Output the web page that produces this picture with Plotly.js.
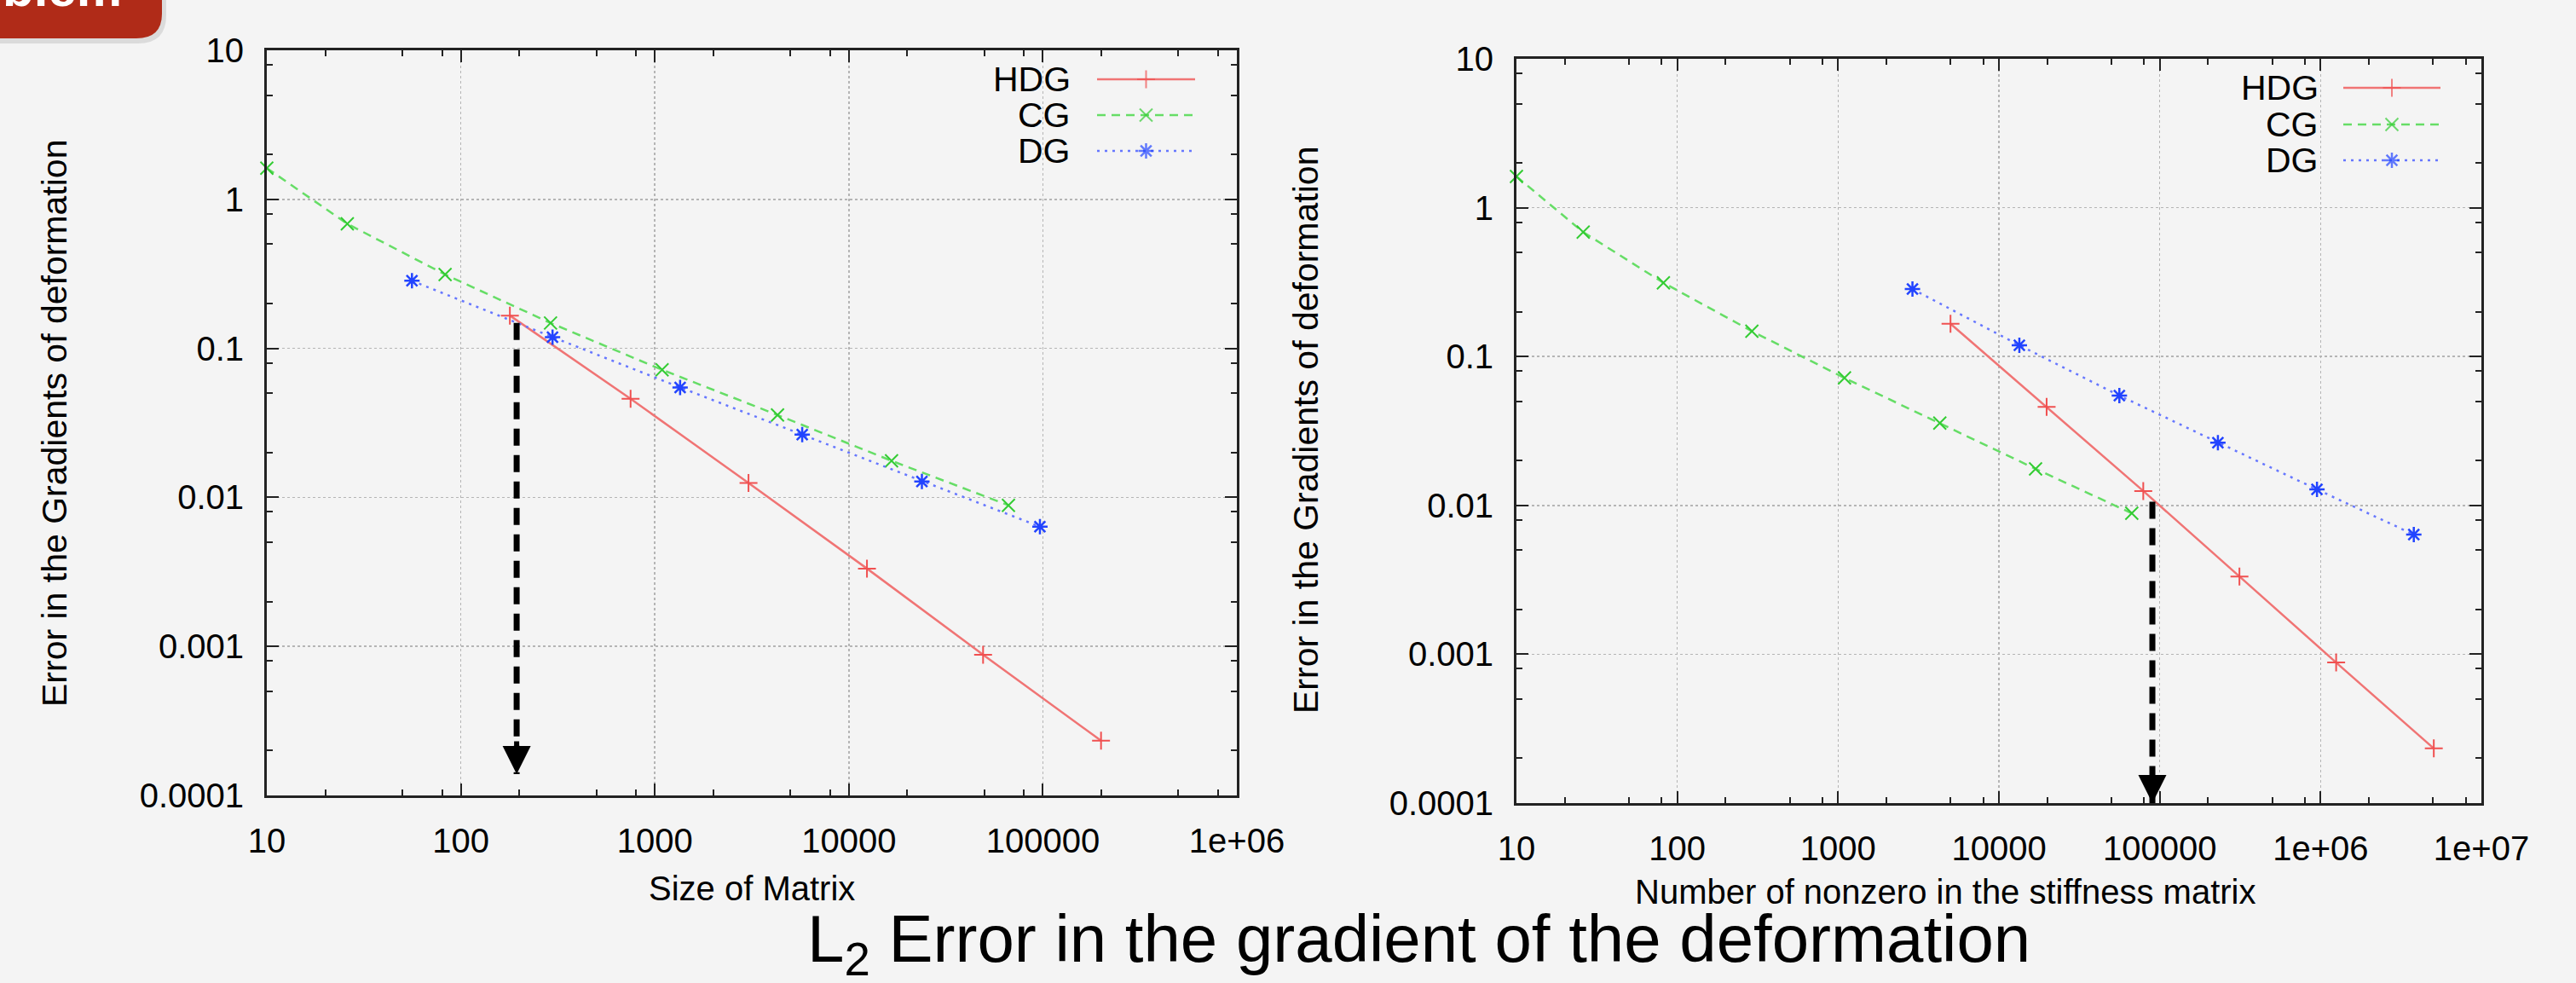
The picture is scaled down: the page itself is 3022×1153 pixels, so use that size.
<!DOCTYPE html>
<html>
<head>
<meta charset="utf-8">
<script src="https://cdn.plot.ly/plotly-3.0.1.min.js"></script>
<style>html,body{margin:0;padding:0;background:#f4f4f4;overflow:hidden;}</style>
</head>
<body>
<div id="chart" style="width:3022px;height:1153px;"></div>
<script>
// ---------------- data ----------------
const seriesNames = ['HDG', 'CG', 'DG'];

// left panel: x = size of matrix
const hdgSize   = [179, 750, 3040, 12400, 49200, 199500];
const cgSize    = [10, 26, 83, 290, 1090, 4290, 16600, 66500];
const dgSize    = [56, 297, 1350, 5750, 23800, 96600];

// right panel: x = number of nonzeros in the stiffness matrix
const hdgNonzero = [5000, 19800, 79000, 313000, 1250000, 5060000];
const cgNonzero  = [10, 26, 82, 291, 1096, 4290, 16900, 67000];
const dgNonzero  = [2900, 13400, 56100, 230000, 950000, 3800000];

// errors (same in both panels)
const hdgError = [0.166, 0.0459, 0.0125, 0.00333, 0.00088, 0.000233];
const cgError  = [1.62, 0.685, 0.313, 0.148, 0.0718, 0.0357, 0.0176, 0.00885];
const dgError  = [0.284, 0.119, 0.0547, 0.0264, 0.0128, 0.00637];

// highlighted crossing points (dashed arrows)
const arrowSizeX = [194, 194];
const arrowSizeY = [0.148, 0.000139];
const arrowNnzX  = [90000, 90000];
const arrowNnzY  = [0.0106, 0.0001];

// tick labels
const yTickVals = [0.0001, 0.001, 0.01, 0.1, 1, 10];
const yTickText = ['0.0001', '0.001', '0.01', '0.1', '1', '10'];
const xSizeTickVals = [10, 100, 1000, 10000, 100000, 1000000];
const xSizeTickText = ['10', '100', '1000', '10000', '100000', '1e+06'];
const xNnzTickVals = [10, 100, 1000, 10000, 100000, 1000000, 10000000];
const xNnzTickText = ['10', '100', '1000', '10000', '100000', '1e+06', '1e+07'];
const minorMultipliers = [2, 5, 8];

const xTitleLeft  = 'Size of Matrix';
const xTitleRight = 'Number of nonzero in the stiffness matrix';
const yTitle      = 'Error in the Gradients of deformation';
const mainTitle   = 'L<sub>2</sub> Error in the gradient of the deformation';
const bannerText  = '<b>Problem</b>';

// ---------------- layout helpers ----------------
const W = 3022, H = 1153;
const FONT = 'Liberation Sans, Arial, Helvetica, sans-serif';
const BG = '#f4f4f4';
const px = x => x / W;
const py = y => 1 - y / H;

const leftBox  = {l: 313, r: 1451, t: 59, b: 933};
const rightBox = {l: 1779, r: 2911, t: 69, b: 942};

function minorList(majors) {
  const out = [];
  majors.forEach(v => minorMultipliers.forEach(m => out.push(v * m)));
  return out;
}

function logAxis(domain, range, vals, text, anchor) {
  return {
    type: 'log', domain: domain, range: range, anchor: anchor,
    tickmode: 'array', tickvals: vals, ticktext: text,
    ticks: 'inside', ticklen: 14, tickwidth: 2, tickcolor: '#222',
    showline: true, linewidth: 3, linecolor: '#222', mirror: 'allticks',
    showgrid: true, gridcolor: '#b5b5b5', gridwidth: 1.5, griddash: 'dot',
    zeroline: false,
    tickfont: {family: FONT, size: 40, color: '#000'},
    ticklabelstandoff: 16,
    minor: {tickmode: 'array', tickvals: minorList(vals), ticks: 'inside',
            ticklen: 7, tickwidth: 2, tickcolor: '#222', showgrid: false},
    fixedrange: true
  };
}

const styles = [
  {line: {color: '#f07474', width: 2.5, dash: 'solid'},
   marker: {symbol: 'cross-thin-open', size: 15, color: '#f05050', line: {color: '#f05050', width: 2}}},
  {line: {color: '#66dd66', width: 2.5, dash: '10px,7px'},
   marker: {symbol: 'x-thin-open', size: 15, color: '#33cc33', line: {color: '#33cc33', width: 2}}},
  {line: {color: '#6677ff', width: 2.5, dash: '3px,6px'},
   marker: {symbol: 'asterisk-open', size: 15, color: '#2244ff', line: {color: '#2244ff', width: 2.5}}}
];

function series(x, y, i, xa, ya) {
  return {x: x, y: y, type: 'scatter', mode: 'lines+markers', name: seriesNames[i],
          xaxis: xa, yaxis: ya, line: styles[i].line, marker: styles[i].marker,
          cliponaxis: false, showlegend: false, hoverinfo: 'skip'};
}

const traces = [
  series(hdgSize, hdgError, 0, 'x', 'y'),
  series(cgSize, cgError, 1, 'x', 'y'),
  series(dgSize, dgError, 2, 'x', 'y'),
  series(hdgNonzero, hdgError, 0, 'x2', 'y2'),
  series(cgNonzero, cgError, 1, 'x2', 'y2'),
  series(dgNonzero, dgError, 2, 'x2', 'y2'),
  {x: arrowSizeX, y: arrowSizeY, type: 'scatter', mode: 'lines', xaxis: 'x', yaxis: 'y',
   line: {color: '#000', width: 7, dash: '20px,11px'}, showlegend: false, hoverinfo: 'skip'},
  {x: arrowNnzX, y: arrowNnzY, type: 'scatter', mode: 'lines', xaxis: 'x2', yaxis: 'y2',
   line: {color: '#000', width: 7, dash: '20px,11px'}, showlegend: false, hoverinfo: 'skip'}
];

// gnuplot-style keys (text on the left, sample on the right)
const keys = [
  {textRight: 1258, lineL: 1287, lineR: 1402, rows: [93, 135, 177], cover: [1165, 62, 1445, 197]},
  {textRight: 2722, lineL: 2749, lineR: 2863, rows: [103, 146, 188], cover: [2630, 72, 2905, 206]}
];

const annotations = [];
const shapes = [];

keys.forEach(k => {
  shapes.push({type: 'rect', layer: 'between', xref: 'paper', yref: 'paper',
               x0: px(k.cover[0]), x1: px(k.cover[2]), y0: py(k.cover[3]), y1: py(k.cover[1]),
               fillcolor: BG, line: {width: 0}});
  seriesNames.forEach((n, i) => {
    const yy = k.rows[i];
    annotations.push({text: n, xref: 'paper', yref: 'paper', x: px(k.textRight), y: py(yy),
                      xanchor: 'right', yanchor: 'middle', showarrow: false,
                      font: {family: FONT, size: 41, color: '#000'}});
    const mid = (k.lineL + k.lineR) / 2;
    traces.push({x: [k.lineL, mid, k.lineR], y: [yy, yy, yy], type: 'scatter', mode: 'lines+markers',
                 xaxis: 'x3', yaxis: 'y3', line: styles[i].line,
                 marker: Object.assign({}, styles[i].marker, {size: [0, 15, 0]}),
                 showlegend: false, hoverinfo: 'skip', cliponaxis: false});
  });
});

// arrowheads at the bottom of the dashed arrows
[[arrowSizeX, arrowSizeY, 'x', 'y'], [arrowNnzX, arrowNnzY, 'x2', 'y2']].forEach(a => {
  annotations.push({x: Math.log10(a[0][1]), y: Math.log10(a[1][1]), xref: a[2], yref: a[3],
                    text: '', showarrow: true, ax: 0, ay: -40, arrowhead: 2, arrowsize: 1.1,
                    arrowwidth: 6, arrowcolor: '#000'});
});

// axis titles
function txt(text, x, y, size, angle) {
  return {text: text, xref: 'paper', yref: 'paper', x: px(x), y: py(y), xanchor: 'center',
          yanchor: 'middle', showarrow: false, textangle: angle || 0,
          font: {family: FONT, size: size, color: '#000'}};
}
annotations.push(txt(xTitleLeft, 882, 1042, 40));
annotations.push(txt(xTitleRight, 2282, 1046, 40));
annotations.push(txt(yTitle, 64, 497, 41, -90));
annotations.push(txt(yTitle, 1532, 505, 41, -90));
annotations.push(txt(mainTitle, 1664, 1106, 78));

// banner in the top-left corner
const bannerPath = 'M ' + px(0) + ',' + py(0) + ' L ' + px(190) + ',' + py(0) + ' L ' + px(190) + ',' + py(16) +
  ' Q ' + px(190) + ',' + py(45) + ' ' + px(160) + ',' + py(45) + ' L ' + px(0) + ',' + py(45) + ' Z';
const shadowPath = 'M ' + px(0) + ',' + py(0) + ' L ' + px(195) + ',' + py(0) + ' L ' + px(195) + ',' + py(18) +
  ' Q ' + px(195) + ',' + py(51) + ' ' + px(162) + ',' + py(51) + ' L ' + px(0) + ',' + py(51) + ' Z';
shapes.push({type: 'path', xref: 'paper', yref: 'paper', path: shadowPath,
             fillcolor: 'rgba(0,0,0,0.10)', line: {width: 0}, layer: 'above'});
shapes.push({type: 'path', xref: 'paper', yref: 'paper', path: bannerPath,
             fillcolor: '#b02b18', line: {width: 0}, layer: 'above'});
annotations.push({text: bannerText, xref: 'paper', yref: 'paper', x: px(145), y: py(22),
                  xanchor: 'right', yanchor: 'bottom', showarrow: false,
                  font: {family: FONT, size: 60, color: '#ffffff'}});

const layout = {
  width: W, height: H,
  margin: {l: 0, r: 0, t: 0, b: 0, pad: 0},
  paper_bgcolor: BG, plot_bgcolor: 'rgba(0,0,0,0)',
  showlegend: false,
  font: {family: FONT, color: '#000'},
  xaxis:  logAxis([px(leftBox.l), px(leftBox.r)], [1, 6], xSizeTickVals, xSizeTickText, 'y'),
  yaxis:  logAxis([py(leftBox.b), py(leftBox.t)], [-4, 1], yTickVals, yTickText, 'x'),
  xaxis2: logAxis([px(rightBox.l), px(rightBox.r)], [1, 7], xNnzTickVals, xNnzTickText, 'y2'),
  yaxis2: logAxis([py(rightBox.b), py(rightBox.t)], [-4, 1], yTickVals, yTickText, 'x2'),
  xaxis3: {domain: [0, 1], range: [0, W], visible: false, anchor: 'y3', fixedrange: true},
  yaxis3: {domain: [0, 1], range: [H, 0], visible: false, anchor: 'x3', fixedrange: true},
  annotations: annotations,
  shapes: shapes
};

Plotly.newPlot('chart', traces, layout, {staticPlot: true, displayModeBar: false});
</script>
</body>
</html>
